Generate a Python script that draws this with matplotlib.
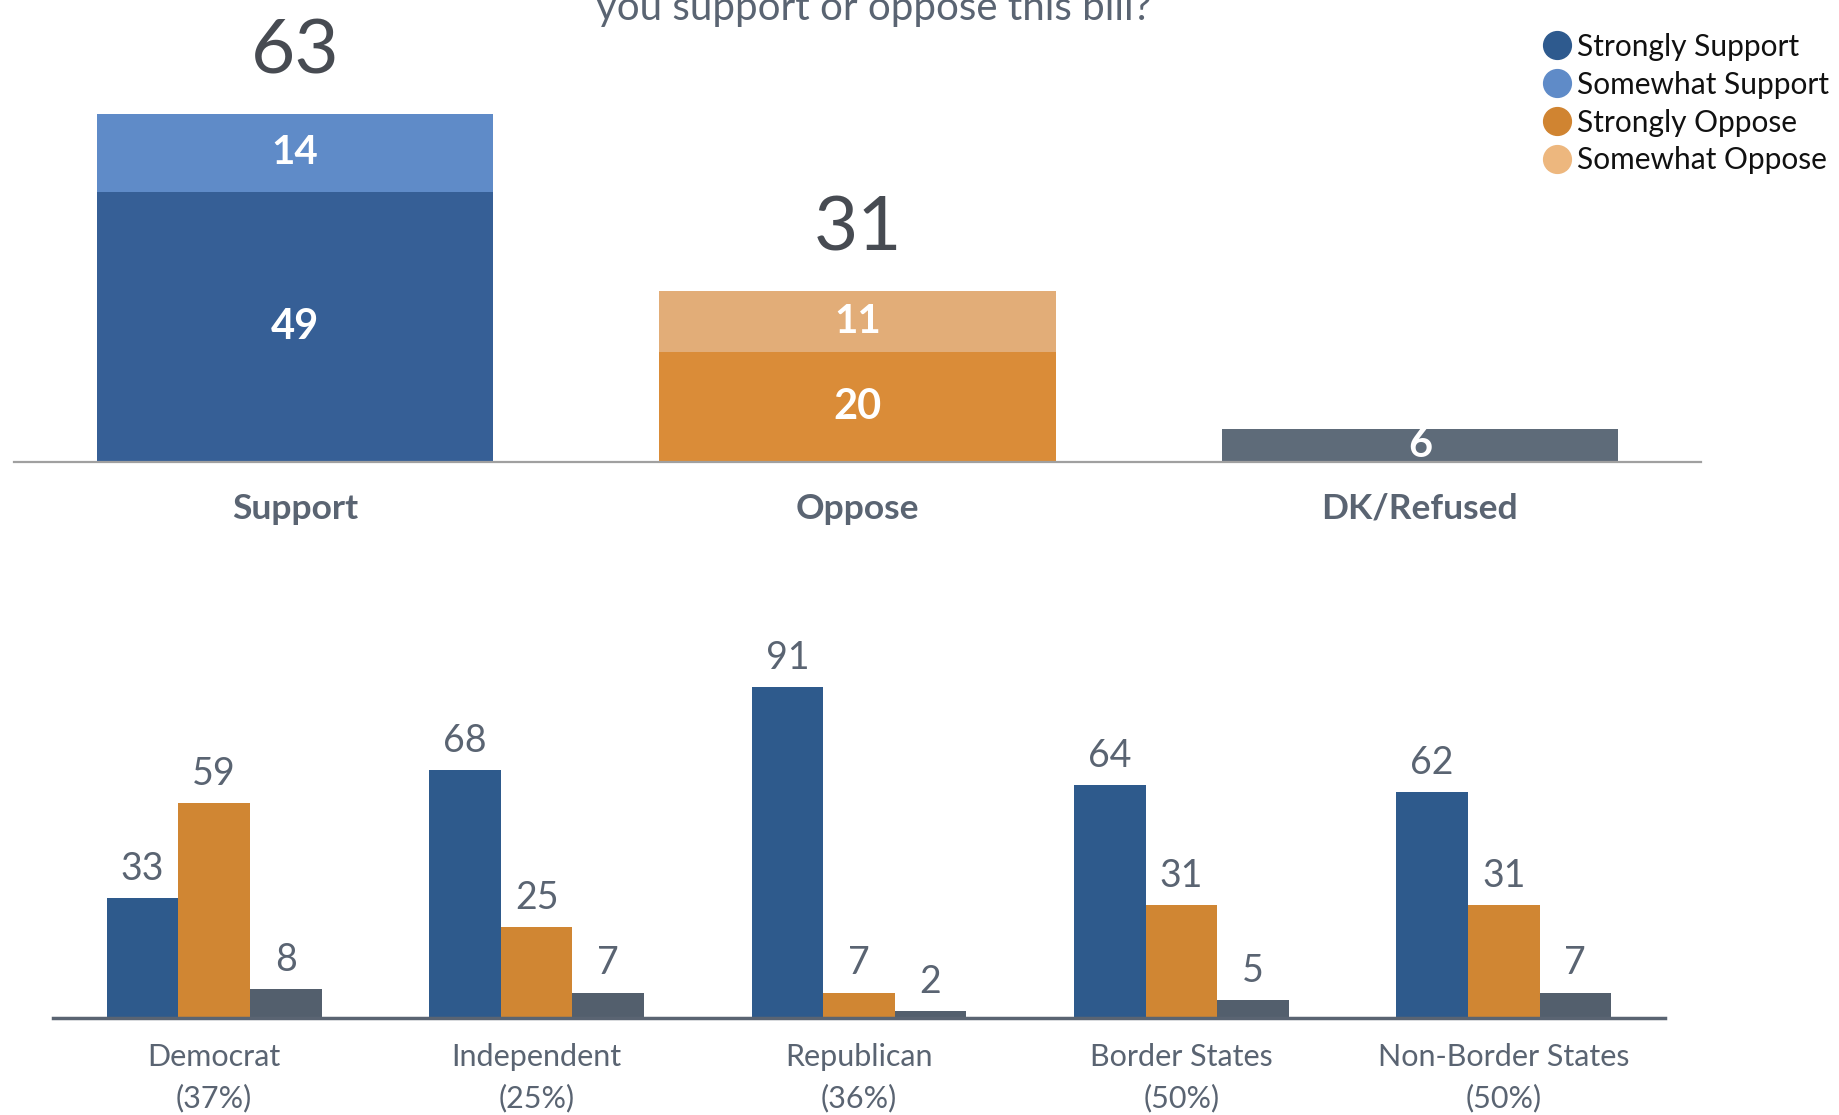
"""Support/oppose bill chart: overall stacked bars plus breakdown by group."""
import matplotlib

matplotlib.use("Agg")
import matplotlib.pyplot as plt
import numpy as np
from matplotlib.lines import Line2D

# 总体结果
top_categories = ["Support", "Oppose", "DK/Refused"]
strong_values = [49, 20, 6]
somewhat_values = [14, 11, 0]
totals = [63, 31, None]

# 分组结果
groups = ["Democrat", "Independent", "Republican", "Border States", "Non-Border States"]
group_shares = ["(37%)", "(25%)", "(36%)", "(50%)", "(50%)"]
group_support = [33, 68, 91, 64, 62]
group_oppose = [59, 25, 7, 31, 31]
group_dk = [8, 7, 2, 5, 7]

legend_labels = ["Strongly Support", "Somewhat Support", "Strongly Oppose", "Somewhat Oppose"]
legend_colors = ["#2E5A8E", "#5F8BC8", "#D08431", "#EDB77E"]

# 颜色
TEXT_GREY = "#5A6472"
NUM_GREY = "#474B52"
top_strong_colors = ["#365F96", "#DA8C38", "#5E6B79"]
top_somewhat_colors = ["#5F8BC8", "#E2AD78", "#5E6B79"]
SUPPORT_COLOR = "#2E5A8C"
OPPOSE_COLOR = "#D08633"
DK_COLOR = "#535F6D"

plt.rcParams["font.family"] = ["Lato", "DejaVu Sans"]

W, H = 1839, 1115
fig = plt.figure(figsize=(W / 100, H / 100), dpi=100)
fig.patch.set_facecolor("white")


def frac_box(left, right, bottom_px, top_px):
    """像素坐标 -> figure 比例 [l, b, w, h]."""
    return [left / W, 1 - bottom_px / H, (right - left) / W, (bottom_px - top_px) / H]


# ---------- 上半部分: 堆叠柱 ----------
ax1 = fig.add_axes(frac_box(14, 1701, 462, 462 - 80 * 5.52))
x = np.arange(len(top_categories))
bw = 0.705
ax1.bar(x, strong_values, width=bw, color=top_strong_colors, zorder=2)
ax1.bar(x, somewhat_values, width=bw, bottom=strong_values,
        color=top_somewhat_colors, zorder=2)
ax1.set_xlim(-0.5, 2.5)
ax1.set_ylim(0, 80)

for i, (s, w, t) in enumerate(zip(strong_values, somewhat_values, totals)):
    ax1.text(i, s / 2, str(s), ha="center", va="center", color="white",
             fontsize=30, fontweight="bold", zorder=3)
    if w:
        ax1.text(i, s + w / 2, str(w), ha="center", va="center", color="white",
                 fontsize=29, fontweight="bold", zorder=3)
    if t is not None:
        ax1.annotate(str(t), (i, s + w), xytext=(0, 29), textcoords="offset points",
                     ha="center", va="baseline", color=NUM_GREY, fontsize=55)

ax1.set_xticks(x)
ax1.set_xticklabels(top_categories, fontsize=25.5, fontweight="bold", color=TEXT_GREY)
ax1.tick_params(axis="x", length=0, pad=22)
ax1.set_yticks([])
for side in ["left", "right", "top"]:
    ax1.spines[side].set_visible(False)
ax1.spines["bottom"].set_color("#A0A0A0")
ax1.spines["bottom"].set_linewidth(1.6)
ax1.patch.set_alpha(0)

# ---------- 下半部分: 分组柱 ----------
ax2 = fig.add_axes(frac_box(53, 1665, 1018, 1018 - 100 * 3.64))
gx = np.arange(len(groups))
gw = 0.222
series = [(group_support, SUPPORT_COLOR, -gw), (group_oppose, OPPOSE_COLOR, 0),
          (group_dk, DK_COLOR, gw)]
for vals, color, off in series:
    ax2.bar(gx + off, vals, width=gw, color=color, zorder=2)
    for xi, v in zip(gx + off, vals):
        ax2.annotate(str(v), (xi, v), xytext=(0, 8), textcoords="offset points",
                     ha="center", va="bottom", color=TEXT_GREY, fontsize=27)

ax2.set_xlim(-0.5, 4.5)
ax2.set_ylim(0, 100)
ax2.set_xticks(gx)
ax2.set_xticklabels([f"{g}\n{s}" for g, s in zip(groups, group_shares)],
                    fontsize=22, color=TEXT_GREY, linespacing=1.55)
ax2.tick_params(axis="x", length=0, pad=18)
ax2.set_yticks([])
for side in ["left", "right", "top"]:
    ax2.spines[side].set_visible(False)
ax2.spines["bottom"].set_color("#5A6472")
ax2.spines["bottom"].set_linewidth(2.5)
ax2.patch.set_alpha(0)

# 标题（上半部分被裁切）
fig.text(874 / W, 1 - 20 / H, "you support or oppose this bill?", ha="center",
         va="baseline", fontsize=29, color=TEXT_GREY)

# 图例
handles = [Line2D([], [], marker="o", linestyle="none", markersize=20,
                  markerfacecolor=c, markeredgecolor=c) for c in legend_colors]
fig.legend(handles, legend_labels, loc="upper left",
           bbox_to_anchor=(1526 / W, 1 - 18 / H), frameon=False, fontsize=21.5,
           labelspacing=0.33, handletextpad=0.1, handlelength=1.1, borderpad=0,
           labelcolor="#111111")

fig.savefig("out.png", dpi=100)
